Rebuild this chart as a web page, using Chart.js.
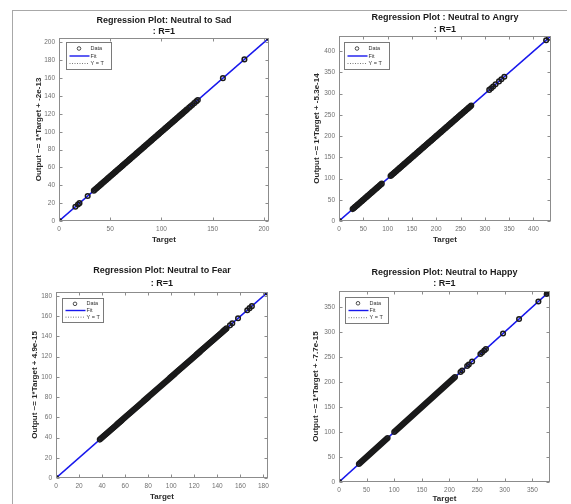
<!DOCTYPE html>
<html>
<head>
<meta charset="utf-8">
<script src="https://cdn.jsdelivr.net/npm/chart.js@4.4.0/dist/chart.umd.min.js"></script>
<style>
  body { margin: 0; background: #fff; width: 571px; height: 504px; overflow: hidden; position: relative; }
  .frame { position: absolute; left: 12px; top: 10px; width: 554px; height: 494px;
           border-left: 1px solid #a8a8a8; border-top: 1px solid #a8a8a8; }
  canvas { position: absolute; }
</style>
</head>
<body>
<div class="frame"></div>
<canvas id="sad" width="272" height="240" style="left:12px;top:10px"></canvas>
<canvas id="angry" width="279" height="250" style="left:292px;top:0px"></canvas>
<canvas id="fear" width="272" height="254" style="left:12px;top:250px"></canvas>
<canvas id="happy" width="279" height="254" style="left:292px;top:250px"></canvas>
<script>
// targets; output equals target (R=1)
var sadTargets = [0, 16, 18.5, 20, 28,
  34, 35, 36, 37, 38, 39, 40, 41, 42, 43, 44, 45, 46, 47, 48, 49, 50, 51, 52, 53, 54, 55, 56, 57, 58, 59,
  60, 61, 62, 63, 64, 65, 66, 67, 68, 69, 70, 71, 72, 73, 74, 75, 76, 77, 78, 79, 80, 81, 82, 83, 84, 85,
  86, 87, 88, 89, 90, 91, 92, 93, 94, 95, 96, 97, 98, 99, 100, 101, 102, 103, 104, 105, 106, 107, 108, 109,
  110, 111, 112, 113, 114, 115, 116, 117, 118, 119, 120, 121, 122, 123, 124, 125,
  127, 128.5, 130, 132, 134, 135.5, 160, 181, 205];
var angryTargets = [0, 28,
  30, 32, 34, 36, 38, 40, 42, 44, 46, 48, 50, 52, 54, 56, 58, 60, 62, 64, 66, 68, 70, 72, 74, 76, 78, 80,
  82, 84, 86, 88,
  106, 108, 110, 112, 114, 116, 118, 120, 122, 124, 126, 128, 130, 132, 134, 136, 138, 140, 142, 144, 146,
  148, 150, 152, 154, 156, 158, 160, 162, 164, 166, 168, 170, 172, 174, 176, 178, 180, 182, 184, 186, 188,
  190, 192, 194, 196, 198, 200, 202, 204, 206, 208, 210, 212, 214, 216, 218, 220, 222, 224, 226, 228, 230,
  232, 234, 236, 238, 240, 242, 244, 246, 248, 250, 252, 254, 256, 258, 260, 262, 264, 266, 268, 270, 272,
  309, 313, 317, 322, 329, 334, 340, 426, 432];
var fearTargets = [0,
  38, 39, 40, 41, 42, 43, 44, 45, 46, 47, 48, 49, 50, 51, 52, 53, 54, 55, 56, 57, 58, 59, 60, 61, 62, 63,
  64, 65, 66, 67, 68, 69, 70, 71, 72, 73, 74, 75, 76, 77, 78, 79, 80, 81, 82, 83, 84, 85, 86, 87, 88, 89,
  90, 91, 92, 93, 94, 95, 96, 97, 98, 99, 100, 101, 102, 103, 104, 105, 106, 107, 108, 109, 110, 111, 112,
  113, 114, 115, 116, 117, 118, 119, 120, 121, 122, 123, 124, 125, 126, 127, 128, 129, 130, 131, 132, 133,
  134, 135, 136, 137, 138, 139, 140, 141, 142, 143, 144, 145, 146, 147,
  148, 151, 153, 158, 166, 168, 170, 183.5];
var happyTargets = [0,
  36, 38, 40, 42, 44, 46, 48, 50, 52, 54, 56, 58, 60, 62, 64, 66, 68, 70, 72, 74, 76, 78, 80, 82, 84, 86, 88,
  100, 102, 104, 106, 108, 110, 112, 114, 116, 118, 120, 122, 124, 126, 128, 130, 132, 134, 136, 138, 140,
  142, 144, 146, 148, 150, 152, 154, 156, 158, 160, 162, 164, 166, 168, 170, 172, 174, 176, 178, 180, 182,
  184, 186, 188, 190, 192, 194, 196, 198, 200, 202, 204, 206, 208, 210,
  220, 223, 232, 235, 241, 256, 259, 263, 266, 297, 326, 361, 376, 378, 380, 381.5];

var sadXTicks = [0, 50, 100, 150, 200];
var sadYTicks = [0, 20, 40, 60, 80, 100, 120, 140, 160, 180, 200];
var angryTicks = [0, 50, 100, 150, 200, 250, 300, 350, 400];
var fearTicks = [0, 20, 40, 60, 80, 100, 120, 140, 160, 180];
var happyTicks = [0, 50, 100, 150, 200, 250, 300, 350];

var FONT = "'Liberation Sans', Arial, sans-serif";

// matlab style box, inward ticks and legend inside the axes
var matlabAxes = {
  id: 'matlabAxes',
  afterDraw: function(chart, args, opts) {
    var c = chart.ctx, a = chart.chartArea;
    var sx = chart.scales.x, sy = chart.scales.y;
    var l = Math.round(a.left) + 0.5, r = Math.round(a.right) - 0.5;
    var t = Math.round(a.top) + 0.5, b = Math.round(a.bottom) - 0.5;
    c.save();
    c.strokeStyle = '#8c8c8c';
    c.lineWidth = 1;
    c.beginPath();
    sx.ticks.forEach(function(tk) {
      var px = Math.round(sx.getPixelForValue(tk.value)) + 0.5;
      c.moveTo(px, b); c.lineTo(px, b - 3);
      c.moveTo(px, t); c.lineTo(px, t + 3);
    });
    sy.ticks.forEach(function(tk) {
      var py = Math.round(sy.getPixelForValue(tk.value)) + 0.5;
      c.moveTo(l, py); c.lineTo(l + 3, py);
      c.moveTo(r, py); c.lineTo(r - 3, py);
    });
    c.stroke();
    c.strokeRect(l, t, r - l, b - t);

    // legend
    var lx = l + opts.dx, ly = t + opts.dy, w = opts.w, h = opts.h;
    var row = h / 3.6;
    c.fillStyle = '#fff';
    c.fillRect(lx, ly, w, h);
    c.strokeStyle = '#7a7a7a';
    c.strokeRect(lx, ly, w, h);
    var ds = chart.data.datasets;
    c.font = '5.5px ' + FONT;
    c.fillStyle = '#333';
    c.textBaseline = 'middle';
    for (var i = 0; i < 3; i++) {
      var yy = ly + row * (i + 0.8);
      if (i === 0) {
        c.strokeStyle = '#222';
        c.lineWidth = 0.8;
        c.beginPath();
        c.arc(lx + 12.5, yy, 1.8, 0, Math.PI * 2);
        c.stroke();
      } else {
        c.strokeStyle = ds[i].borderColor;
        c.lineWidth = i === 1 ? 1.4 : 0.8;
        c.setLineDash(ds[i].borderDash || []);
        c.beginPath();
        c.moveTo(lx + 3, yy); c.lineTo(lx + 23, yy);
        c.stroke();
        c.setLineDash([]);
      }
      c.fillText(ds[i].label, lx + 24, yy);
    }
    c.restore();
  }
};

function makeChart(id, p) {
  var tickFont = { family: FONT, size: 6.5 };
  new Chart(document.getElementById(id).getContext('2d'), {
    type: 'scatter',
    data: {
      datasets: [{
        label: 'Data',
        data: p.values.map(function(v) { return { x: v, y: v }; }),
        pointStyle: 'circle',
        pointRadius: 2.3,
        borderWidth: 1.5,
        borderColor: '#1a1a1a',
        backgroundColor: 'rgba(0,0,0,0)',
        order: 0
      }, {
        label: 'Fit',
        data: [{ x: 0, y: 0 }, { x: p.max, y: p.max }],
        showLine: true,
        pointRadius: 0,
        borderColor: '#1818ee',
        borderWidth: 1.6,
        order: 1
      }, {
        label: 'Y = T',
        data: [{ x: 0, y: 0 }, { x: p.max, y: p.max }],
        showLine: true,
        pointRadius: 0,
        borderColor: '#555',
        borderDash: [1, 1.5],
        borderWidth: 0.8,
        order: 2
      }]
    },
    options: {
      responsive: false,
      animation: false,
      devicePixelRatio: 1,
      layout: { padding: { left: 0, right: p.padRight, top: 0, bottom: 0 }, autoPadding: false },
      plugins: {
        legend: { display: false },
        tooltip: { enabled: false },
        title: {
          display: true,
          fullSize: false,
          text: [p.title, ': R=1'],
          color: '#1a1a1a',
          font: { family: FONT, size: 9, weight: 'bold', lineHeight: p.titleLH },
          padding: { top: p.titleTop, bottom: p.titleBottom }
        },
        matlabAxes: { dx: p.legDx, dy: p.legDy, w: p.legW, h: p.legH }
      },
      scales: {
        x: {
          type: 'linear', min: 0, max: p.max,
          afterBuildTicks: function(s) { s.ticks = p.xTicks.map(function(v) { return { value: v }; }); },
          afterFit: function(s) { s.height = p.xH; },
          grid: { display: false, drawTicks: false, tickLength: 0 },
          border: { display: false },
          ticks: { color: '#707070', font: tickFont, padding: 4, maxRotation: 0, autoSkip: false },
          title: { display: true, text: 'Target', color: '#2a2a2a',
                   font: { family: FONT, size: 8, weight: 'bold', lineHeight: 1.2 },
                   padding: { top: 0, bottom: p.xTitlePad } }
        },
        y: {
          type: 'linear', min: 0, max: p.max,
          afterBuildTicks: function(s) { s.ticks = p.yTicks.map(function(v) { return { value: v }; }); },
          afterFit: function(s) { s.width = p.yW; },
          grid: { display: false, drawTicks: false, tickLength: 0 },
          border: { display: false },
          ticks: { color: '#707070', font: tickFont, padding: 4, autoSkip: false },
          title: { display: true, text: p.yLabel, color: '#2a2a2a',
                   font: { family: FONT, size: 8, weight: 'bold', lineHeight: 1.2 },
                   padding: { top: p.yTitlePad, bottom: 0 } }
        }
      }
    },
    plugins: [matlabAxes]
  });
}

makeChart('sad', {
  title: 'Regression Plot: Neutral to Sad', yLabel: 'Output ~= 1*Target + -2e-13',
  values: sadTargets, max: 205, xTicks: sadXTicks, yTicks: sadYTicks,
  padRight: 15, yW: 47, xH: 29, titleLH: 1.25, titleTop: 4.4, titleBottom: 1.1,
  yTitlePad: 22.2, xTitlePad: 5.2, legDx: 7, legDy: 4, legW: 45, legH: 27
});
makeChart('angry', {
  title: 'Regression Plot : Neutral to Angry', yLabel: 'Output ~= 1*Target + -5.3e-14',
  values: angryTargets, max: 436, xTicks: angryTicks, yTicks: angryTicks,
  padRight: 20, yW: 47, xH: 29, titleLH: 1.333, titleTop: 12, titleBottom: 0,
  yTitlePad: 20.2, xTitlePad: 5.2, legDx: 5, legDy: 6, legW: 45, legH: 27
});
makeChart('fear', {
  title: 'Regression Plot: Neutral to Fear', yLabel: 'Output ~= 1*Target + 4.9e-15',
  values: fearTargets, max: 184, xTicks: fearTicks, yTicks: fearTicks,
  padRight: 16, yW: 44, xH: 26, titleLH: 1.444, titleTop: 14.5, titleBottom: 1.5,
  yTitlePad: 18.2, xTitlePad: 2.2, legDx: 6, legDy: 6, legW: 41, legH: 24
});
makeChart('happy', {
  title: 'Regression Plot: Neutral to Happy', yLabel: 'Output ~= 1*Target + -7.7e-15',
  values: happyTargets, max: 382, xTicks: happyTicks, yTicks: happyTicks,
  padRight: 21, yW: 47, xH: 22, titleLH: 1.222, titleTop: 17.5, titleBottom: 1.5,
  yTitlePad: 19.2, xTitlePad: 0, legDx: 6, legDy: 6, legW: 43, legH: 26
});
</script>
</body>
</html>
